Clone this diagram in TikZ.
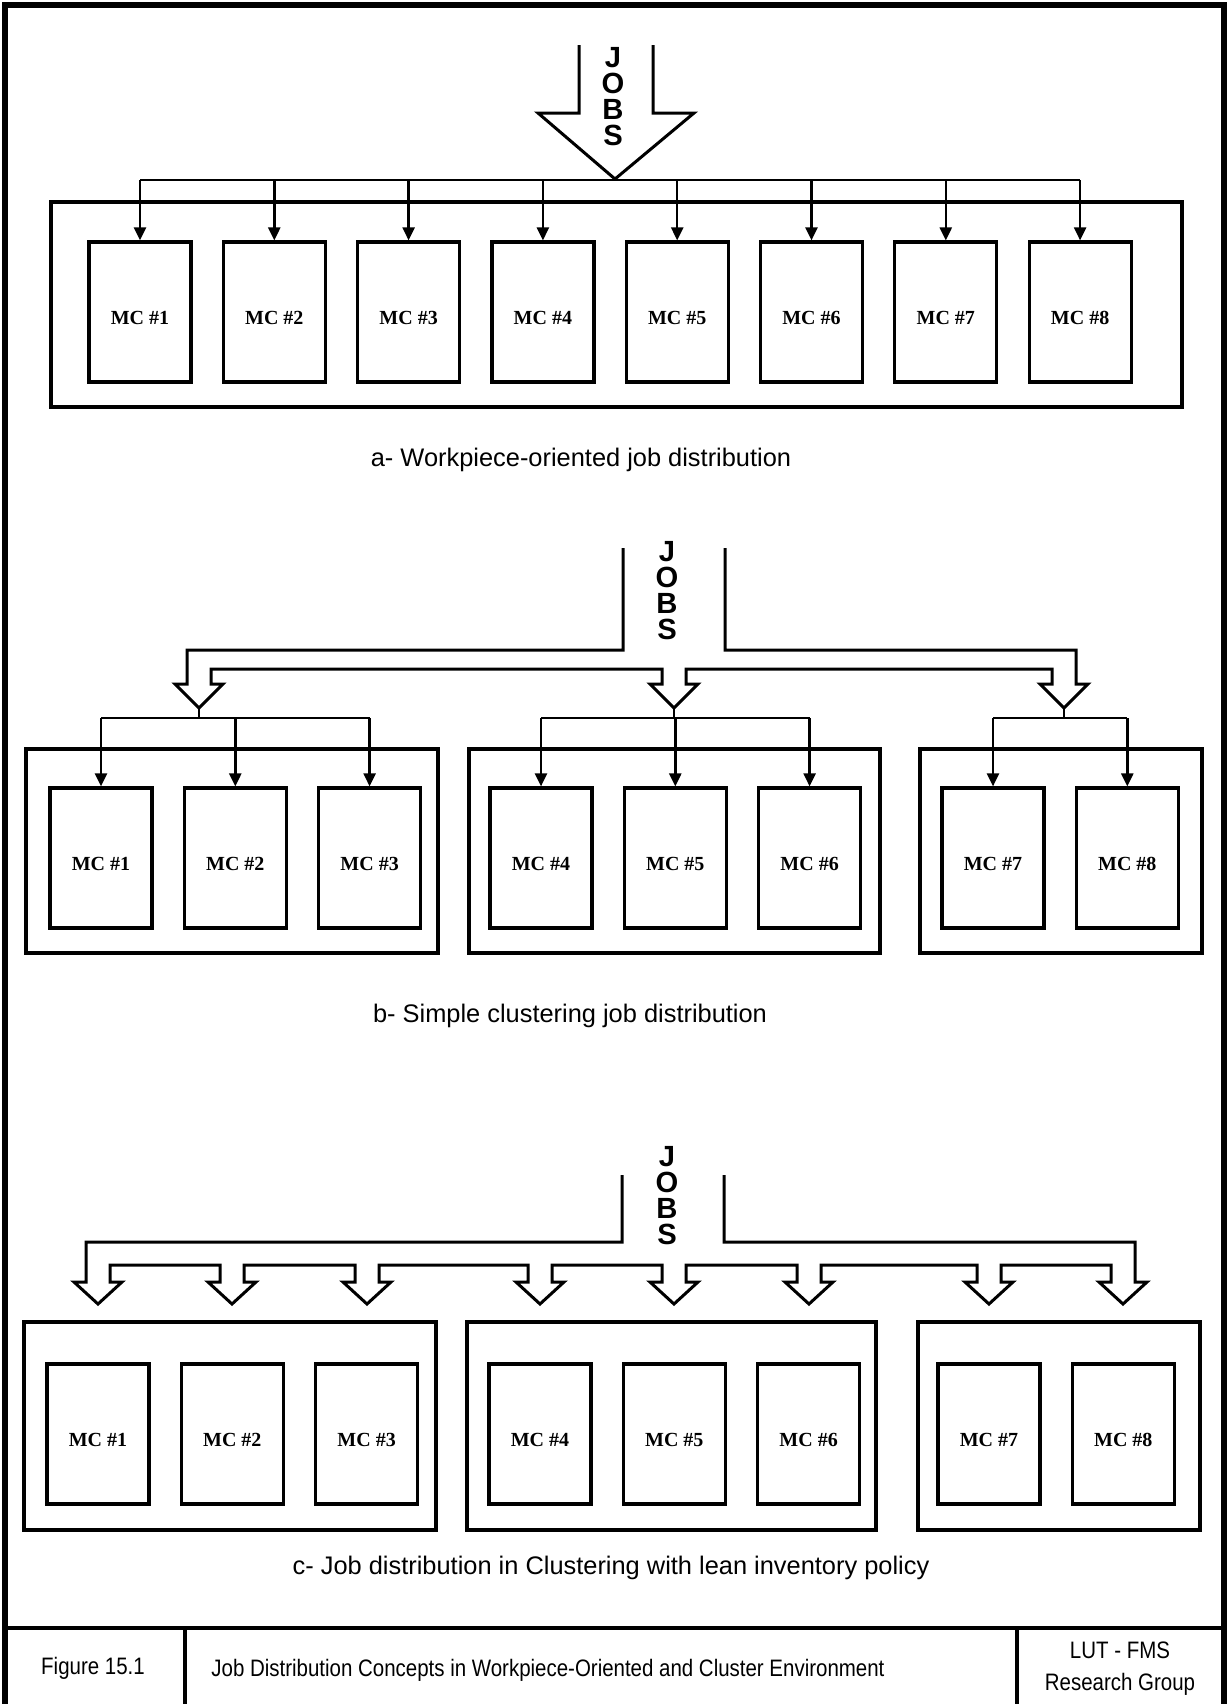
\documentclass[tikz,border=0pt]{standalone}
\usepackage{fontspec}
\setmainfont{Liberation Serif}
\setsansfont{Liberation Sans}
\newfontfamily\narrowsans[FakeStretch=0.86]{Liberation Sans}
\usetikzlibrary{positioning,arrows.meta}

\begin{document}
\begin{tikzpicture}[x=0.5pt,y=-0.5pt,
			mc/.style={
				draw,
				line width=1.6pt,
				minimum width=51pt,
				minimum height=70pt,
				inner sep=0pt,
				text height=12pt,
				text depth=0pt,
				font=\bfseries\fontsize{10}{12}\selectfont
			},
			frame/.style={draw,line width=1.6pt},
			wire/.style={line width=1.2pt},
			feed/.style={wire,-{Triangle[width=6pt,length=6.5pt]}},
			block/.style={draw,line width=1.5pt,line join=miter},
			jobs/.style={align=center,inner sep=0pt,font=\sffamily\bfseries\fontsize{14.6}{13}\selectfont},
			caption/.style={font=\sffamily\fontsize{12.7}{15}\selectfont},
			footer/.style={align=center,inner sep=0pt,font=\narrowsans\fontsize{11.9}{16}\selectfont},
			node distance=14.55pt]
			
			\useasboundingbox (0,0) rectangle (1230,1704);
			
			% sheet border and title block
			\draw[line width=2.6pt] (5,1710) -- (5,5) -- (1224,5) -- (1224,1710);
			\draw[line width=2.2pt] (5,1628) -- (1224,1628);
			\draw[line width=2.2pt] (185,1628) -- (185,1710);
			\draw[line width=2.2pt] (1017,1628) -- (1017,1710);
			
			\node[footer](fig) at (93,1668){Figure 15.1};
			\node[footer,anchor=west](title) at (211,1670){Job Distribution Concepts in Workpiece-Oriented and Cluster Environment};
			\node[footer](group) at (1120,1669){LUT - FMS\\Research Group};
			
			% a- one queue feeding every machine
			\node[mc](a1) at (140,312){MC \#1};
			\node[mc](a2)[right=of a1]{MC \#2};
			\node[mc](a3)[right=of a2]{MC \#3};
			\node[mc](a4)[right=of a3]{MC \#4};
			\node[mc](a5)[right=of a4]{MC \#5};
			\node[mc](a6)[right=of a5]{MC \#6};
			\node[mc](a7)[right=of a6]{MC \#7};
			\node[mc](a8)[right=of a7]{MC \#8};
			
			\draw[frame] (51,202) rectangle (1182,407);
			
			\coordinate (abus) at (0,180);
			\draw[wire] (a1 |- abus) -- (a8 |- abus);
			\draw[feed] (a1 |- abus) -- (a1);
			\draw[feed] (a2 |- abus) -- (a2);
			\draw[feed] (a3 |- abus) -- (a3);
			\draw[feed] (a4 |- abus) -- (a4);
			\draw[feed] (a5 |- abus) -- (a5);
			\draw[feed] (a6 |- abus) -- (a6);
			\draw[feed] (a7 |- abus) -- (a7);
			\draw[feed] (a8 |- abus) -- (a8);
			
			\draw[block] (579,45) -- (579,113) -- (538,113) -- (615,179) -- (694,113) -- (653,113) -- (653,45);
			\node[jobs](jobsa) at (613,97){J\\O\\B\\S};
			
			\node[caption](capa) at (581,460){a- Workpiece-oriented job distribution};
			
			% b- one feed per cluster
			\node[mc](b1) at (101,858){MC \#1};
			\node[mc](b2)[right=of b1]{MC \#2};
			\node[mc](b3)[right=of b2]{MC \#3};
			\node[mc](b4) at (541,858){MC \#4};
			\node[mc](b5)[right=of b4]{MC \#5};
			\node[mc](b6)[right=of b5]{MC \#6};
			\node[mc](b7) at (993,858){MC \#7};
			\node[mc](b8)[right=of b7]{MC \#8};
			
			\draw[frame] (26,749) rectangle (438,953);
			\draw[frame] (469,749) rectangle (880,953);
			\draw[frame] (920,749) rectangle (1202,953);
			
			\coordinate (bbus) at (0,718);
			\draw[wire] (b1 |- bbus) -- (b3 |- bbus);
			\draw[wire] (b4 |- bbus) -- (b6 |- bbus);
			\draw[wire] (b7 |- bbus) -- (b8 |- bbus);
			\draw[feed] (b1 |- bbus) -- (b1);
			\draw[feed] (b2 |- bbus) -- (b2);
			\draw[feed] (b3 |- bbus) -- (b3);
			\draw[feed] (b4 |- bbus) -- (b4);
			\draw[feed] (b5 |- bbus) -- (b5);
			\draw[feed] (b6 |- bbus) -- (b6);
			\draw[feed] (b7 |- bbus) -- (b7);
			\draw[feed] (b8 |- bbus) -- (b8);
			
			\draw[block] (623,548) -- (623,650) -- (187,650) -- (187,684) -- (175,684) -- (199,708) -- (223,684) -- (211,684) -- (211,669)
				-- (662,669) -- (662,684) -- (650,684) -- (674,708) -- (698,684) -- (686,684) -- (686,669)
				-- (1052,669) -- (1052,684) -- (1040,684) -- (1064,708) -- (1088,684) -- (1076,684) -- (1076,650)
				-- (725,650) -- (725,548);
			\coordinate (btip1) at (199,708);
			\coordinate (btip2) at (674,708);
			\coordinate (btip3) at (1064,708);
			\draw[wire] (btip1) -- (btip1 |- bbus);
			\draw[wire] (btip2) -- (btip2 |- bbus);
			\draw[wire] (btip3) -- (btip3 |- bbus);
			\node[jobs](jobsb) at (667,591){J\\O\\B\\S};
			
			\node[caption](capb) at (570,1016){b- Simple clustering job distribution};
			
			% c- one feed per machine, clusters kept
			\node[mc](c1) at (98,1434){MC \#1};
			\node[mc](c2)[right=of c1]{MC \#2};
			\node[mc](c3)[right=of c2]{MC \#3};
			\node[mc](c4) at (540,1434){MC \#4};
			\node[mc](c5)[right=of c4]{MC \#5};
			\node[mc](c6)[right=of c5]{MC \#6};
			\node[mc](c7) at (989,1434){MC \#7};
			\node[mc](c8)[right=of c7]{MC \#8};
			
			\draw[frame] (24,1322) rectangle (436,1530);
			\draw[frame] (467,1322) rectangle (876,1530);
			\draw[frame] (918,1322) rectangle (1200,1530);
			
			\draw[block] (622,1175) -- (622,1242) -- (86,1242) -- (86,1282) -- (74,1282) -- (98,1304) -- (122,1282) -- (110,1282) -- (110,1265)
				-- (220,1265) -- (220,1282) -- (208,1282) -- (232,1304) -- (256,1282) -- (244,1282) -- (244,1265)
				-- (355,1265) -- (355,1282) -- (343,1282) -- (367,1304) -- (391,1282) -- (379,1282) -- (379,1265)
				-- (528,1265) -- (528,1282) -- (516,1282) -- (540,1304) -- (564,1282) -- (552,1282) -- (552,1265)
				-- (662,1265) -- (662,1282) -- (650,1282) -- (674,1304) -- (698,1282) -- (686,1282) -- (686,1265)
				-- (797,1265) -- (797,1282) -- (785,1282) -- (809,1304) -- (833,1282) -- (821,1282) -- (821,1265)
				-- (977,1265) -- (977,1282) -- (965,1282) -- (989,1304) -- (1013,1282) -- (1001,1282) -- (1001,1265)
				-- (1111,1265) -- (1111,1282) -- (1099,1282) -- (1123,1304) -- (1147,1282) -- (1135,1282) -- (1135,1242)
				-- (724,1242) -- (724,1175);
			\node[jobs](jobsc) at (667,1196){J\\O\\B\\S};
			
			\node[caption](capc) at (611,1568){c- Job distribution in Clustering with lean inventory policy};
			
		\end{tikzpicture}
\end{document}
